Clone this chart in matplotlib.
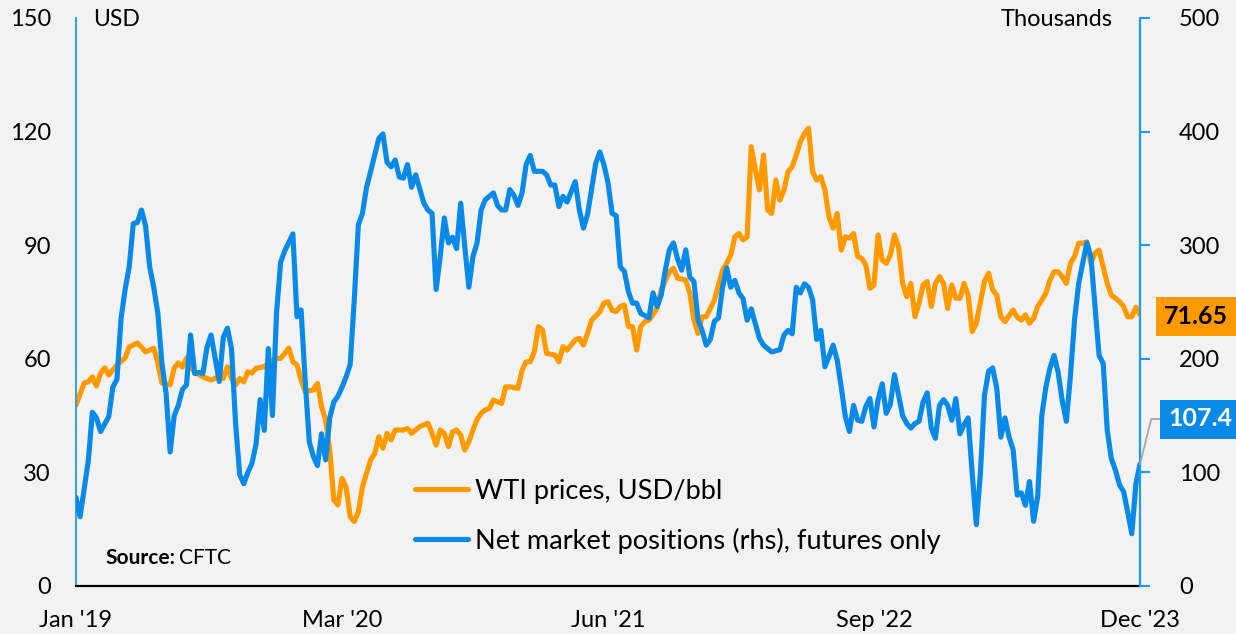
import numpy as np
import pandas as pd
import matplotlib
matplotlib.use("Agg")
import matplotlib.pyplot as plt

# ---------------- data (weekly observations, week 0 = 2019-01-01) ----------------
START = "2019-01-01"
tick_weeks = [0, 65, 130, 195, 260]
tick_labels = ["Jan '19", "Mar '20", "Jun '21", "Sep '22", "Dec '23"]
left_ticks = [0, 30, 60, 90, 120, 150]
right_ticks = [0, 100, 200, 300, 400, 500]

wti_weeks = [0, 2, 3, 4, 5, 6, 7, 8, 10, 12, 13, 15, 16, 17, 19, 20, 21, 23, 24, 25,
             26, 27, 28, 29, 31, 33, 35, 36, 37, 38, 39, 40, 41, 42, 43, 44, 46, 47, 49, 50,
             52, 53, 54, 55, 56, 58, 59, 60, 61, 62, 63, 64, 65, 66, 67, 68, 69, 70, 72, 73,
             74, 75, 76, 77, 78, 80, 81, 82, 84, 86, 87, 88, 89, 90, 91, 92, 93, 94, 95, 96,
             97, 98, 99, 100, 101, 102, 104, 105, 106, 108, 109, 110, 111, 112, 113, 114, 115, 117, 118, 119,
             120, 122, 123, 124, 125, 126, 128, 129, 130, 131, 132, 133, 134, 135, 136, 137, 138, 139, 140, 142,
             143, 145, 146, 147, 149, 150, 151, 152, 153, 154, 155, 156, 158, 159, 160, 161, 162, 163, 164, 165,
             166, 167, 168, 169, 170, 171, 172, 173, 174, 175, 176, 177, 178, 179, 180, 181, 182, 183, 184, 185,
             186, 187, 188, 189, 190, 191, 192, 193, 194, 195, 196, 197, 198, 199, 200, 201, 202, 203, 204, 205,
             206, 207, 208, 209, 210, 211, 212, 213, 214, 215, 216, 217, 218, 219, 220, 221, 222, 223, 224, 225,
             226, 227, 229, 230, 231, 232, 233, 234, 235, 236, 237, 238, 239, 240, 241, 242, 243, 244, 245, 246,
             247, 248, 249, 250, 251, 252, 253, 254, 255, 256, 257, 258, 259, 260]
wti_usd = [47.8, 53.6, 53.9, 55.2, 52.8, 56.2, 57.6, 55.7, 58.4, 60.2, 63.1, 64.2, 63.1, 61.8, 62.8, 58.9, 53.6, 53.1, 57.6, 58.9,
           57.8, 60.2, 57.8, 56.5, 55.2, 54.4, 55.3, 54.8, 57.9, 54.8, 53.1, 54.8, 53.9, 56.6, 56.2, 57.5, 57.9, 58.8, 60.1, 60.1,
           62.8, 59.2, 58.4, 54.4, 51.3, 51.8, 53.5, 47.4, 43.8, 35.9, 22.7, 21.4, 28.4, 26.2, 18.3, 17.0, 19.6, 26.2, 33.3, 35.0,
           39.4, 36.4, 40.3, 38.6, 41.2, 41.2, 41.6, 40.3, 42.1, 43.0, 40.3, 37.2, 41.2, 40.3, 36.8, 40.7, 41.2, 39.9, 35.9, 38.1,
           41.2, 44.0, 45.6, 46.5, 46.9, 49.1, 48.2, 52.6, 52.6, 52.2, 57.0, 59.2, 59.2, 61.9, 68.5, 67.6, 61.4, 61.0, 59.2, 63.2,
           62.3, 65.0, 65.4, 63.6, 66.7, 70.2, 72.4, 74.7, 75.1, 72.8, 72.5, 73.8, 74.2, 68.5, 68.5, 62.3, 68.5, 69.8, 70.2, 73.3,
           78.2, 83.0, 83.9, 81.3, 80.8, 77.3, 70.2, 66.7, 71.1, 71.1, 73.3, 75.5, 83.4, 85.2, 87.4, 92.2, 93.1, 91.4, 92.2, 116.0,
           109.9, 104.6, 113.8, 99.3, 98.4, 107.2, 101.9, 104.6, 109.4, 110.7, 113.8, 117.3, 119.5, 120.9, 109.4, 107.2, 108.1, 104.6, 97.5, 94.5,
           98.4, 88.7, 92.2, 91.9, 93.1, 87.0, 86.5, 84.8, 78.6, 79.5, 92.7, 86.1, 85.2, 87.4, 92.7, 89.6, 79.9, 76.4, 79.9, 71.1,
           74.7, 79.5, 80.4, 73.8, 79.9, 81.7, 79.9, 73.3, 79.5, 76.0, 76.0, 79.9, 76.8, 67.2, 69.4, 75.0, 80.4, 82.6, 78.2, 76.8,
           71.1, 69.8, 72.9, 71.0, 70.2, 71.6, 69.4, 70.7, 73.8, 75.5, 77.3, 80.8, 83.0, 83.0, 81.7, 79.9, 85.2, 87.0, 90.5, 90.5,
           90.9, 85.2, 87.9, 88.7, 84.3, 79.9, 76.8, 76.0, 75.1, 73.8, 71.1, 71.1, 73.6, 71.65]

pos_weeks = [0, 1, 3, 4, 5, 6, 8, 9, 10, 11, 12, 13, 14, 15, 16, 17, 18, 19, 20, 21,
             22, 23, 24, 25, 26, 27, 28, 29, 30, 31, 32, 33, 35, 36, 37, 38, 39, 40, 41, 42,
             43, 44, 45, 46, 47, 48, 49, 50, 51, 53, 54, 55, 56, 57, 58, 59, 60, 61, 62, 63,
             64, 65, 66, 67, 68, 69, 70, 71, 72, 74, 75, 76, 77, 78, 79, 80, 81, 82, 83, 85,
             86, 87, 88, 89, 90, 91, 92, 93, 94, 95, 96, 97, 98, 99, 100, 102, 103, 104, 105, 106,
             107, 108, 109, 110, 111, 112, 114, 115, 116, 117, 118, 119, 120, 122, 123, 124, 125, 127, 128, 129,
             130, 131, 132, 133, 134, 135, 136, 137, 138, 140, 141, 142, 143, 144, 145, 146, 147, 148, 149, 150,
             151, 152, 153, 154, 155, 156, 157, 158, 159, 160, 161, 162, 163, 164, 165, 166, 167, 168, 170, 171,
             172, 173, 174, 175, 176, 177, 178, 179, 180, 181, 182, 183, 184, 185, 186, 187, 188, 189, 190, 191,
             192, 193, 194, 195, 196, 197, 198, 199, 200, 201, 202, 203, 204, 205, 206, 207, 208, 209, 210, 211,
             212, 213, 214, 215, 216, 217, 218, 219, 220, 221, 222, 223, 224, 225, 226, 227, 228, 229, 230, 231,
             232, 233, 234, 235, 236, 237, 238, 239, 240, 241, 242, 243, 244, 245, 246, 247, 248, 249, 250, 251,
             252, 253, 254, 255, 256, 257, 258, 259, 260]
pos_thousands = [78, 61, 110, 153, 148, 136, 149, 175, 182, 235, 261, 281, 319, 320, 331, 317, 281, 263, 240, 196,
                 170, 118, 150, 159, 173, 177, 221, 187, 188, 187, 210, 221, 180, 219, 227, 209, 143, 98, 90, 100,
                 108, 125, 164, 137, 209, 150, 240, 285, 295, 310, 237, 243, 181, 127, 114, 106, 134, 111, 148, 162,
                 167, 175, 184, 195, 252, 318, 328, 351, 365, 394, 398, 373, 369, 375, 360, 359, 371, 351, 362, 337,
                 331, 328, 261, 290, 324, 302, 307, 297, 337, 299, 263, 290, 302, 331, 340, 346, 335, 331, 331, 349,
                 344, 335, 346, 371, 379, 365, 365, 362, 353, 353, 334, 343, 338, 356, 331, 315, 327, 372, 382, 371,
                 355, 328, 326, 281, 277, 259, 249, 249, 240, 236, 258, 246, 256, 278, 296, 302, 288, 278, 296, 272,
                 268, 234, 225, 212, 217, 233, 236, 263, 280, 263, 269, 258, 253, 234, 244, 231, 218, 212, 206, 207,
                 208, 221, 225, 222, 263, 258, 266, 263, 252, 217, 225, 193, 202, 212, 199, 175, 149, 136, 159, 146,
                 145, 158, 165, 140, 164, 178, 152, 160, 186, 168, 150, 143, 139, 143, 145, 162, 170, 139, 130, 159,
                 164, 159, 146, 165, 134, 142, 148, 99, 54, 99, 168, 189, 192, 174, 131, 148, 131, 120, 80, 82,
                 71, 92, 57, 79, 150, 175, 192, 203, 188, 163, 145, 185, 234, 266, 284, 302, 290, 246, 203, 196,
                 137, 112, 102, 89, 83, 65, 46, 90, 107.4]


def to_dates(weeks):
    return pd.Timestamp(START) + pd.to_timedelta(np.asarray(weeks) * 7, unit="D")


# ---------------- style ----------------
plt.rcParams["font.family"] = ["Lato", "DejaVu Sans"]
BG = "#f2f2f2"
ORANGE = "#FF9900"
BLUE = "#0A8AE8"
SPINE_BLUE = "#1E9BF0"
W, H = 1236, 634
TICK_FS = 17

fig = plt.figure(figsize=(W / 100, H / 100), dpi=100, facecolor=BG)
ax = fig.add_axes([76 / W, 1 - 586 / H, (1140 - 76) / W, (586 - 18) / H])
ax.set_facecolor(BG)
ax2 = ax.twinx()

l1, = ax.plot(to_dates(wti_weeks), wti_usd, color=ORANGE, lw=3.7,
              solid_joinstyle="round", solid_capstyle="round",
              label="WTI prices, USD/bbl")
l2, = ax2.plot(to_dates(pos_weeks), pos_thousands, color=BLUE, lw=3.7,
               solid_joinstyle="round", solid_capstyle="round",
               label="Net market positions (rhs), futures only")

xlim = to_dates([tick_weeks[0], tick_weeks[-1]])
ax.set_xlim(xlim[0], xlim[1])
ax.set_ylim(left_ticks[0], left_ticks[-1])
ax2.set_ylim(right_ticks[0], right_ticks[-1])
ax.set_yticks(left_ticks)
ax2.set_yticks(right_ticks)
ax.set_xticks(to_dates(tick_weeks))
ax.set_xticklabels(tick_labels)

for s in ["top", "right"]:
    ax.spines[s].set_visible(False)
for s in ["top", "left", "bottom"]:
    ax2.spines[s].set_visible(False)
ax.spines["left"].set_color(SPINE_BLUE)
ax.spines["left"].set_linewidth(1.3)
ax.spines["bottom"].set_color("black")
ax.spines["bottom"].set_linewidth(1.6)
ax2.spines["right"].set_color(SPINE_BLUE)
ax2.spines["right"].set_linewidth(1.6)

ax.tick_params(axis="y", length=0, pad=18, labelsize=TICK_FS)
ax.tick_params(axis="x", length=0, pad=17, labelsize=TICK_FS)
ax2.tick_params(axis="y", length=7, width=1.5, color=SPINE_BLUE,
                direction="out", pad=21, labelsize=TICK_FS)

fig.text(93 / W, 1 - 20 / H, "USD", ha="left", va="center", fontsize=16.5)
fig.text(1113 / W, 1 - 20 / H, "Thousands", ha="right", va="center", fontsize=17)

src = fig.text(105 / W, 1 - 558 / H, "Source:", ha="left", va="center",
               fontsize=15, fontweight="bold")
ax.annotate("CFTC", xy=(1, 0.5), xycoords=src, xytext=(3, 0),
            textcoords="offset points", ha="left", va="center", fontsize=15)

ax2.legend(handles=[l1, l2], loc="upper left",
           bbox_to_anchor=(415 / W, (H - 479) / H), bbox_transform=fig.transFigure,
           frameon=False, fontsize=19.6, handlelength=1.95, handletextpad=0.25,
           labelspacing=0.86, borderpad=0, borderaxespad=0)

# end-value labels
last_x = to_dates(wti_weeks)[-1]
ax.annotate(f"{wti_usd[-1]:.2f}", xy=(last_x, wti_usd[-1]), xycoords="data",
            xytext=(1196, H - 316), textcoords="figure pixels",
            ha="center", va="center", fontsize=18, fontweight="bold", color="black",
            bbox=dict(boxstyle="square,pad=0.32", fc=ORANGE, ec="none"),
            annotation_clip=False, zorder=10)
last_xp = to_dates(pos_weeks)[-1]
ax2.annotate(f"{pos_thousands[-1]:.1f}", xy=(last_xp, pos_thousands[-1]), xycoords="data",
             xytext=(1200, H - 419), textcoords="figure pixels",
             ha="center", va="center", fontsize=18, fontweight="bold", color="white",
             bbox=dict(boxstyle="square,pad=0.32", fc=BLUE, ec="none"),
             arrowprops=dict(arrowstyle="-", color="#a6a6a6", lw=1.3, shrinkA=0, shrinkB=0,
                             connectionstyle="angle,angleA=0,angleB=76"),
             annotation_clip=False, zorder=10)

fig.savefig("out.png", dpi=100, facecolor=BG)
